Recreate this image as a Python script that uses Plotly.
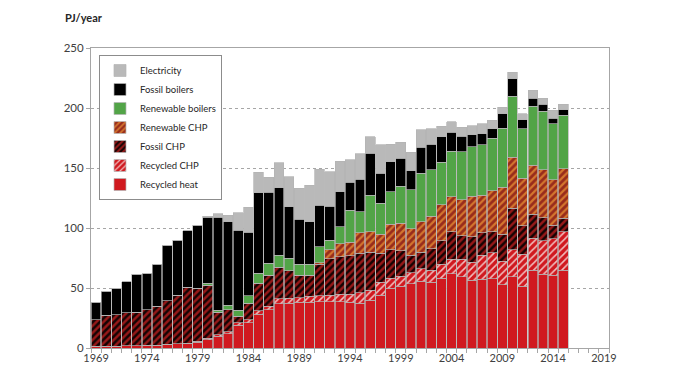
import plotly.graph_objects as go

years = list(range(1969, 2016))

recycled_heat = [1.5, 1.5, 1.5, 2, 2, 2.5, 2.5, 3, 3.5, 4, 5, 7, 10, 12, 19, 21, 28, 32, 37, 37.5,
                 38, 38, 38.5, 38.5, 38.5, 38, 37.5, 40, 44, 50, 51.5, 53.5, 55.8, 54.9, 58, 61.9,
                 59.4, 56.6, 57.1, 57.7, 52.7, 59.4, 51.6, 65, 61.3, 60.5, 64.7]
recycled_chp = [0, 0, 0, 0, 0, 0, 0, 0, 0, 0, 0.5, 1, 1, 1.5, 2, 2.5, 3, 3, 4, 4,
                4, 5, 5, 5.5, 6.5, 7, 8.5, 8, 11, 8, 8.5, 9.2, 10.2, 10.1, 11.7, 12,
                14.5, 15, 20.1, 21.7, 19.8, 22.3, 26.5, 26.4, 27.9, 30.7, 32.3]
fossil_chp = [22.1, 26, 26.3, 27.4, 27.7, 29.4, 32.2, 36.2, 40.4, 46.6, 44.5, 44.2, 18.7, 18.4, 5.4, 14, 22.9, 25.8, 26.2, 22.9,
              18.8, 17.5, 26.5, 30.5, 31, 32, 33, 32, 24, 24, 21, 14.5, 14, 17.8, 19.5, 23.1,
              19.5, 21.2, 19, 17.3, 22.3, 34.6, 23.7, 20.1, 19.5, 11.1, 11.2]
renewable_chp = [0, 0, 0, 0, 0, 0, 0, 0, 0, 0, 0, 0, 0, 0, 0, 0, 0, 0, 0, 0,
                 0, 0, 1, 7.5, 11, 11, 17, 17, 16, 21, 23, 22.3, 25.4, 26.8, 30.1, 29,
                 30.1, 33.5, 31.2, 34.3, 39, 42.6, 39.5, 41, 39.9, 37.9, 41]
renewable_boilers = [0, 0, 0, 0, 0, 0, 0, 0, 0, 0, 0, 1.7, 1.7, 3.7, 5, 6.1, 8.3, 9.8, 10.3, 10.3,
                     9.2, 9.5, 13.4, 8, 14, 27, 17.6, 30.5, 25.6, 27.3, 31, 32.4, 40.1, 39, 35.4, 37.9,
                     40.1, 41.5, 42.1, 43.8, 49.4, 51, 41.3, 49.1, 48.8, 46.6, 44.6]
fossil_boilers = [14.5, 19.7, 22.2, 25.9, 31.7, 29.8, 35, 46.6, 46.1, 47.2, 52.5, 55, 77.5, 69.7, 66.6, 52.9, 67, 59.1, 56.1, 43.1,
                  37.2, 35.3, 34.5, 28.3, 29.3, 23, 27, 34.7, 25, 25, 23, 15.9, 21.8, 21.4, 21.5, 15.9,
                  12.9, 9.8, 8.9, 7.8, 11.9, 14.5, 7.8, 6.7, 5.6, 4.7, 4.7]
electricity = [0, 0, 0, 0, 0, 0, 0, 0, 0, 0, 0, 1, 2.8, 5.5, 14.8, 21, 17.3, 12.8, 20.8, 25,
               25.8, 30.5, 30, 28.6, 25.5, 18.7, 21.1, 13.9, 23.6, 14.7, 13.5, 15.2, 14.7, 12.6, 8.6, 8.9,
               7.5, 7.8, 8.4, 7, 5.6, 5.6, 4.7, 6.4, 5.3, 6.5, 4.5]

x_tick_vals = list(range(1969, 2020, 5))
x_tick_text = [str(v) for v in x_tick_vals]
y_tick_vals = [0, 50, 100, 150, 200, 250]

FONT = "Lato"
EDGE = dict(color="#b4b4b4", width=0.7)

series = [
    ("Recycled heat", recycled_heat, dict(color="#d0191f", line=EDGE)),
    ("Recycled CHP", recycled_chp, dict(color="#d0191f", line=EDGE,
                                         pattern=dict(shape="/", bgcolor="#d0191f", fgcolor="#f2c0c0",
                                                      size=5, solidity=0.3, fillmode="replace"))),
    ("Fossil CHP", fossil_chp, dict(color="#8e1616", line=EDGE,
                                     pattern=dict(shape="/", bgcolor="#961818", fgcolor="#150404",
                                                  size=5, solidity=0.5, fillmode="replace"))),
    ("Renewable CHP", renewable_chp, dict(color="#a8401e", line=EDGE,
                                           pattern=dict(shape="/", bgcolor="#982c1c", fgcolor="#d4762e",
                                                        size=5, solidity=0.45, fillmode="replace"))),
    ("Renewable boilers", renewable_boilers, dict(color="#52a447", line=EDGE)),
    ("Fossil boilers", fossil_boilers, dict(color="#000000", line=EDGE)),
    ("Electricity", electricity, dict(color="#b9b9b9", line=EDGE)),
]

fig = go.Figure()
for name, vals, marker in series:
    fig.add_trace(go.Bar(x=years, y=vals, name=name, marker=marker))

# page body has an 8px margin, so the figure is drawn 8px smaller and offset
W, H = 672, 369
L, R, T, B = 83, 71, 40, 29
plot_w = W - L - R
plot_h = H - T - B

fig.update_layout(
    width=W, height=H,
    barmode="stack", bargap=0.05,
    margin=dict(l=L, r=R, t=T, b=B),
    paper_bgcolor="white", plot_bgcolor="white",
    font=dict(family=FONT, size=11, color="#404040"),
    showlegend=True,
    legend=dict(x=(99 - 91) / plot_w, y=(348 - 55) / plot_h, xanchor="left", yanchor="top",
                bordercolor="#8c8c8c", borderwidth=1, bgcolor="white",
                traceorder="reversed", font=dict(family=FONT, size=9.5, color="#262626"),
                itemwidth=30, tracegroupgap=0),
    xaxis=dict(range=[1968.5, 2019.5], tickmode="array", tickvals=x_tick_vals, ticktext=x_tick_text,
               ticks="", showgrid=False, showline=True, linecolor="#a6a6a6", linewidth=1, mirror=True,
               tickfont=dict(family=FONT, size=11, color="#404040"),
               minor=dict(tick0=1968.5, dtick=1, ticks="outside", ticklen=4, tickcolor="#a6a6a6", showgrid=False)),
    yaxis=dict(range=[0, 250], tickmode="array", tickvals=y_tick_vals,
               showgrid=True, gridcolor="#a6a6a6", griddash="dot", gridwidth=1,
               showline=True, linecolor="#a6a6a6", linewidth=1, mirror=True, zeroline=False,
               ticks="outside", ticklen=4, tickcolor="#a6a6a6",
               tickfont=dict(family=FONT, size=11.5, color="#404040")),
    annotations=[dict(text="<b>PJ/year</b>", x=(63 - 91) / plot_w, y=(348 - 18) / plot_h,
                      xref="paper", yref="paper", xanchor="left", yanchor="middle",
                      showarrow=False, font=dict(family=FONT, size=11, color="#262626"))],
)

fig.write_html("out.html")
